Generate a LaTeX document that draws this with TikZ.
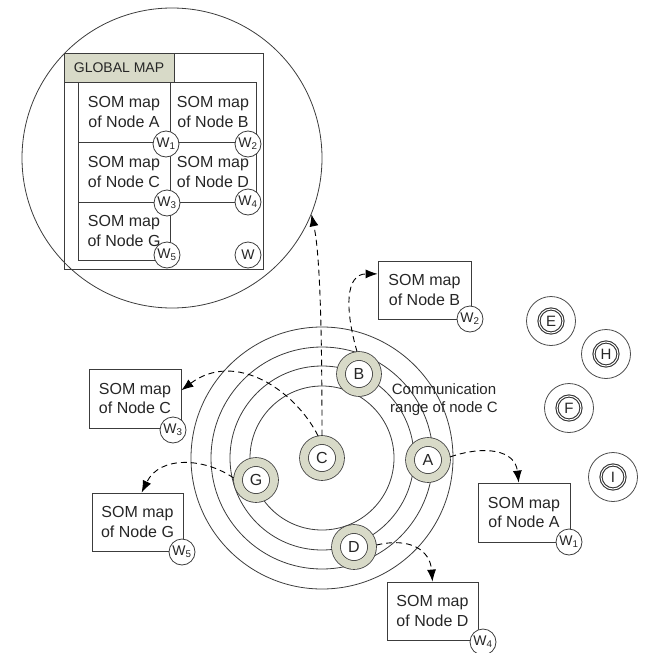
\documentclass[tikz,border=0pt]{standalone}
\usepackage{fontspec}
\setmainfont{Liberation Sans}
\usetikzlibrary{arrows.meta}
\definecolor{nodegreen}{RGB}{216,218,200}
\definecolor{linegray}{RGB}{60,60,60}

\tikzset{
  som/.style={draw=linegray, minimum width=92pt, minimum height=58pt, inner sep=0pt, align=center, font=\fontsize{16}{19.5}\selectfont},
  wc/.style={circle, draw=linegray, fill=white, minimum size=26pt, inner sep=0pt, font=\fontsize{14}{14}\selectfont},
  ringnode/.style={circle, fill=white, draw=linegray, double=nodegreen, double distance=8pt, minimum size=36pt, inner sep=0pt, outer sep=4.4pt, font=\fontsize{16}{16}\selectfont},
  farnode/.style={circle, draw=black!80, double=white, double distance=1pt, line width=1.1pt, minimum size=24pt, inner sep=0pt, font=\fontsize{15}{15}\selectfont},
  link/.style={dash pattern=on 6pt off 4pt, line width=0.9pt, -{Latex[length=12pt,width=9pt]}},
}

\begin{document}
\begin{tikzpicture}[x=1pt, y=-1pt, line width=0.8pt, text=black!85]
  \useasboundingbox (0,0) rectangle (648,653);

  % global map, seen through the zoom circle
  \node[circle, draw=linegray, minimum size=300pt, inner sep=0pt] (zoomc) at (172,158) {};
  \node[draw=linegray, minimum width=199pt, minimum height=216pt, inner sep=0pt] (gmap) at (163.5,161) {};
  \node[draw=linegray, fill=nodegreen, minimum width=110pt, minimum height=29pt, inner sep=0pt, font=\fontsize{14}{14}\selectfont] (gtitle) at (119,67.5) {GLOBAL MAP};
  \node[som, minimum height=60pt] (cellA) at (124,112) {SOM map\\of Node A};
  \node[som, minimum width=86pt, minimum height=60pt] (cellB) at (213,112) {SOM map\\of Node B};
  \node[som, minimum height=60pt] (cellC) at (124,172) {SOM map\\of Node C};
  \node[som, minimum width=86pt, minimum height=60pt] (cellD) at (213,172) {SOM map\\of Node D};
  \node[som] (cellG) at (124,231) {SOM map\\of Node G};
  \node[wc] (gw1) at (166,144) {W\textsubscript{1}};
  \node[wc] (gw2) at (248,144) {W\textsubscript{2}};
  \node[wc] (gw3) at (167,203) {W\textsubscript{3}};
  \node[wc] (gw4) at (248,202) {W\textsubscript{4}};
  \node[wc] (gw5) at (167,255) {W\textsubscript{5}};
  \node[wc] (gw) at (248,255) {W};

  % communication rings round node C
  \coordinate (ctr) at (322,458);
  \foreach \r in {72,92,111,131}
    \draw[linegray] (ctr) circle[radius=\r];

  \node[ringnode] (C) at (ctr) {C};
  \node[ringnode] (B) at (359,374) {B};
  \node[ringnode] (A) at (428,460) {A};
  \node[ringnode] (G) at (256,480) {G};
  \node[ringnode] (D) at (354,547) {D};
  \node[align=center, font=\fontsize{15}{18}\selectfont] (range) at (444,400) {Communication\\range of node C};

  % nodes out of range
  \node[farnode] (E) at (551,321) {E};
  \node[farnode] (H) at (606,354) {H};
  \node[farnode] (F) at (569,408) {F};
  \node[farnode] (I) at (613,477) {I};
  \draw[black!70] (E.center) circle[radius=24.5];
  \draw[black!70] (H.center) circle[radius=24.5];
  \draw[black!70] (F.center) circle[radius=24.5];
  \draw[black!70] (I.center) circle[radius=24.5];

  % local maps
  \node[som, minimum width=93pt] (boxB) at (424.5,290) {SOM map\\of Node B};
  \node[som, minimum height=59pt] (boxC) at (135,398.5) {SOM map\\of Node C};
  \node[som, minimum width=91pt] (boxG) at (137.5,522) {SOM map\\of Node G};
  \node[som, minimum height=59pt] (boxA) at (524,512.5) {SOM map\\of Node A};
  \node[som, minimum width=91pt] (boxD) at (432.5,611) {SOM map\\of Node D};
  \node[wc] (w2) at (470,319) {W\textsubscript{2}};
  \node[wc] (w3) at (173,430) {W\textsubscript{3}};
  \node[wc] (w5) at (182,552) {W\textsubscript{5}};
  \node[wc] (w1) at (569,542) {W\textsubscript{1}};
  \node[wc] (w4) at (483,642) {W\textsubscript{4}};

  % transfers
  \draw[link] (C.90) .. controls (322,290) and (318,245) .. (zoomc.-22);
  \draw[link] (C.100) .. controls (295,390) and (235,350) .. (boxC.10);
  \draw[link] (B.95) .. controls (345,310) and (345,274) .. (boxB.161);
  \draw[link] (G.175) .. controls (205,458) and (160,455) .. (boxG.82);
  \draw[link] (A.8) .. controls (485,445) and (515,450) .. (boxA.100);
  \draw[link] (D.5) .. controls (410,537) and (430,550) .. (boxD.north);
\end{tikzpicture}
\end{document}
